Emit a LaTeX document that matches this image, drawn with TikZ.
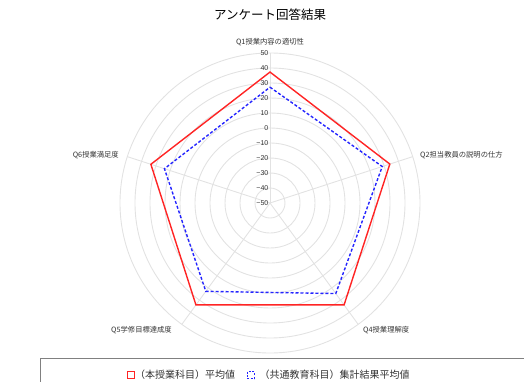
\documentclass[tikz,border=0pt]{standalone}
\usepackage{fontspec}
\setmainfont{Noto Sans CJK JP}
\newfontfamily\numfont{Liberation Sans}
\usetikzlibrary{positioning}
\definecolor{gridgray}{HTML}{E2E2E2}
\definecolor{labelgray}{HTML}{333333}
\definecolor{avgred}{HTML}{FF2424}
\definecolor{avgblue}{HTML}{2424FF}
\tikzset{
  gridline/.style={draw=gridgray, line width=0.9pt},
  ticklabel/.style={font=\numfont\fontsize{7}{8}\selectfont, text=labelgray, anchor=east, inner sep=1pt},
  axislabel/.style={font=\fontsize{7.3}{8}\selectfont, text=labelgray, inner sep=0pt},
  legendtext/.style={font=\fontsize{10}{11}\selectfont, text=labelgray, inner sep=0pt},
  ownline/.style={draw=avgred, line width=1.4pt},
  commonline/.style={draw=avgblue, line width=1.4pt, dash pattern=on 3pt off 2pt},
}

\begin{document}
\begin{tikzpicture}[x=1pt,y=1pt]
  \useasboundingbox (-270,-178) rectangle (254,203);
  \clip (-270,-178) rectangle (254,203);

  % grid
  \foreach \r in {1,...,10}
    \draw[gridline] (0,0) circle[radius=15*\r];
  \foreach \a in {90,18,-54,-126,162}
    \draw[gridline] (0,0) -- (\a:150);

  % scale
  \foreach \v [count=\i] in {-50,-40,...,50}
    \node[ticklabel] (tick\i) at (-0.5,{(\v+50)*1.5})
      {\ifnum\v<0 −\the\numexpr-\v\relax\else\v\fi};

  % averages
  \foreach \a/\v [count=\i] in {90/37.3,18/34,-54/34,-126/34,162/33.5}
    \coordinate (own\i) at (\a:{(\v+50)*1.5});
  \foreach \a/\v [count=\i] in {90/27.2,18/28.7,-54/24.6,-126/22.8,162/24}
    \coordinate (common\i) at (\a:{(\v+50)*1.5});
  \draw[ownline] (own1) -- (own2) -- (own3) -- (own4) -- (own5) -- cycle;
  \draw[commonline] (common1) -- (common2) -- (common3) -- (common4) -- (common5) -- cycle;

  % titles
  \node[font=\fontsize{12.5}{14}\selectfont] (title) at (0,188) {アンケート回答結果};
  \node[axislabel] (q1) at (0,161) {Q1授業内容の適切性};
  \node[axislabel, anchor=west] (q2) at (150,48) {Q2担当教員の説明の仕方};
  \node[axislabel, anchor=west] (q4) at (93,-127) {Q4授業理解度};
  \node[axislabel, anchor=east] (q5) at (-98,-127) {Q5学修目標達成度};
  \node[axislabel, anchor=east] (q6) at (-151,48) {Q6授業満足度};

  % legend
  \node[draw=gray, line width=0.8pt, minimum width=530pt, minimum height=50pt,
        anchor=north west, inner sep=0pt] (legend) at (-230,-155) {};
  \node[draw=avgred, line width=1pt, minimum size=7pt, inner sep=0pt] (ownkey) at (-139,-172) {};
  \node[legendtext, right=0pt of ownkey] (owntext) {（本授業科目）平均値};
  \node[draw=avgblue, line width=1pt, dash pattern=on 2pt off 1.5pt,
        minimum size=7pt, inner sep=0pt, right=11.5pt of owntext] (commonkey) {};
  \node[legendtext, right=4.5pt of commonkey] (commontext) {（共通教育科目）集計結果平均値};
\end{tikzpicture}
\end{document}
